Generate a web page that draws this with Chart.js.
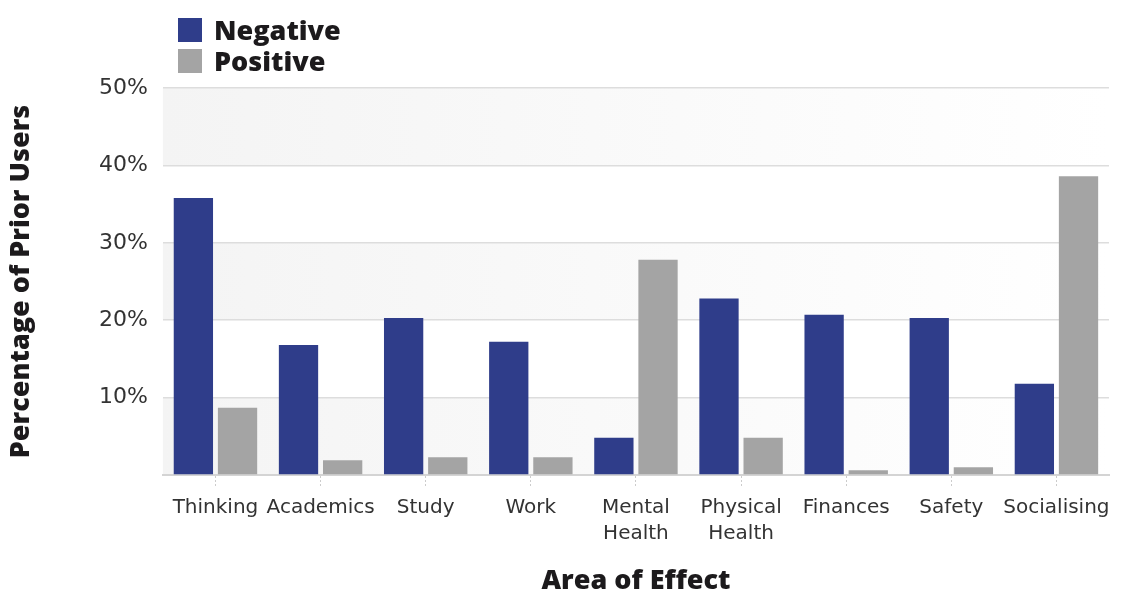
<!DOCTYPE html>
<html lang="en">
<head>
<meta charset="UTF-8">
<title>Area of Effect</title>
<script src="https://cdn.jsdelivr.net/npm/chart.js"></script>
<style>
    body { margin: 0; background: #fff; overflow: hidden; }
    .wrap { position: relative; width: 1123px; height: 590px; }
    .legenda { position: absolute; left: 178px; top: 14px; font-family: "Open Sans", sans-serif; font-weight: 800; font-size: 27px; color: #1c1a1c; }
    .legenda div { height: 31px; line-height: 31px; display: flex; align-items: center; }
    .legenda span.box { display: inline-block; width: 24px; height: 24px; margin-right: 12px; }
</style>
</head>
<body>
<div class="wrap">
    <canvas id="grafico" width="1123" height="590"></canvas>
    <div class="legenda">
        <div><span class="box" style="background:#2f3d8a"></span>Negative</div>
        <div><span class="box" style="background:#a4a4a4"></span>Positive</div>
    </div>
</div>
<script>
    // dados
    const categorias = ['Thinking', 'Academics', 'Study', 'Work', ['Mental', 'Health'], ['Physical', 'Health'], 'Finances', 'Safety', 'Socialising'];
    const negativo = [35.8, 16.8, 20.3, 17.2, 4.8, 22.8, 20.7, 20.3, 11.8];
    const positivo = [8.7, 1.9, 2.3, 2.3, 27.8, 4.8, 0.6, 1.0, 38.6];
    const ticksY = [10, 20, 30, 40, 50];

    // faixas alternadas no fundo, com degradê da esquerda para a direita
    const faixas = {
        id: 'faixas',
        beforeDraw(chart) {
            const { ctx, chartArea, scales } = chart;
            const grad = ctx.createLinearGradient(chartArea.left, 0, chartArea.right, 0);
            grad.addColorStop(0, '#f4f4f4');
            grad.addColorStop(1, '#ffffff');
            ctx.save();
            ctx.fillStyle = grad;
            for (let v = 0; v < 50; v += 20) {
                const y1 = scales.y.getPixelForValue(v + 10);
                const y0 = scales.y.getPixelForValue(v);
                ctx.fillRect(chartArea.left, y1, chartArea.right - chartArea.left, y0 - y1);
            }
            ctx.restore();
        }
    };

    const fonteTicks = "'DejaVu Sans', sans-serif";
    const fonteTitulo = "'Open Sans', sans-serif";

    new Chart(document.getElementById('grafico'), {
        type: 'bar',
        data: {
            labels: categorias,
            datasets: [
                { label: 'Negative', data: negativo, backgroundColor: '#2f3d8a' },
                { label: 'Positive', data: positivo, backgroundColor: '#a4a4a4' }
            ]
        },
        options: {
            responsive: false,
            animation: false,
            layout: { padding: { top: 88, right: 14, left: 8, bottom: -5 } },
            categoryPercentage: 0.84,
            barPercentage: 0.89,
            plugins: {
                legend: { display: false },
                tooltip: { enabled: false }
            },
            scales: {
                x: {
                    grid: {
                        offset: false,
                        drawOnChartArea: false,
                        tickLength: 12,
                        tickColor: '#cccccc',
                        tickBorderDash: [2, 2]
                    },
                    border: { color: '#d4d4d4', width: 2 },
                    ticks: { color: '#333', font: { family: fonteTicks, size: 20, lineHeight: 1.3 }, padding: 8, maxRotation: 0, autoSkip: false },
                    title: { display: true, text: 'Area of Effect', color: '#1c1a1c', font: { family: fonteTitulo, size: 27, weight: 800, lineHeight: 1 }, padding: { top: 13, bottom: 0 } }
                },
                y: {
                    min: 0,
                    max: 50,
                    afterBuildTicks(axis) { axis.ticks = [0].concat(ticksY).map(v => ({ value: v })); },
                    grid: { color: '#dddddd', lineWidth: 1.5, drawTicks: false },
                    border: { display: false },
                    ticks: {
                        color: '#333', font: { family: fonteTicks, size: 22 }, padding: 15,
                        callback: v => v === 0 ? '' : v + '%'
                    },
                    title: { display: true, text: 'Percentage of Prior Users', color: '#1c1a1c', font: { family: fonteTitulo, size: 27, weight: 800, lineHeight: 1 }, padding: { top: 0, bottom: 49 } }
                }
            }
        },
        plugins: [faixas]
    });
</script>
</body>
</html>
